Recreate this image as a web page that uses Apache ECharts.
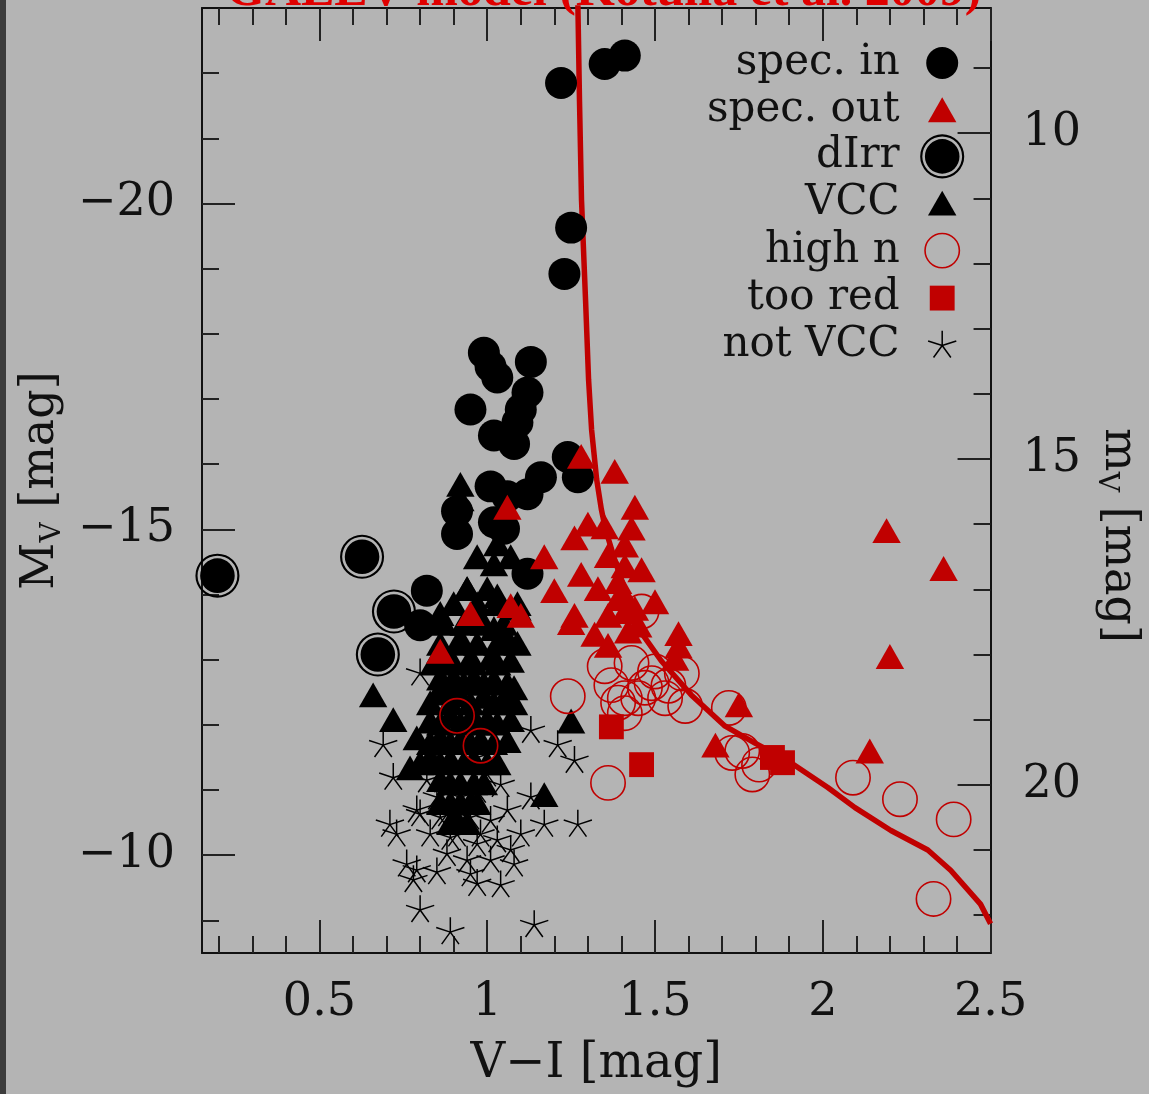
<!DOCTYPE html>
<html>
<head>
<meta charset="utf-8">
<script src="https://cdn.jsdelivr.net/npm/echarts@6/dist/echarts.min.js"></script>
<style>
html,body{margin:0;padding:0;background:#b4b4b4;width:1149px;height:1094px;overflow:hidden;}
#chart{width:1149px;height:1094px;overflow:hidden;}
</style>
</head>
<body>
<div id="chart"></div>
<script>
// ---------- data (V-I [mag], M_V [mag]) ----------
const galevModel = [[1.269,-23.41],[1.275,-21.57],[1.281,-20.05],[1.293,-18.52],[1.302,-17.30],[1.311,-16.53],[1.326,-15.77],[1.340,-15.31],[1.352,-15.01],[1.382,-14.50],[1.450,-13.48],[1.519,-12.98],[1.608,-12.46],[1.709,-11.98],[1.798,-11.72],[1.896,-11.45],[2.015,-11.04],[2.096,-10.73],[2.203,-10.38],[2.313,-10.08],[2.381,-9.77],[2.470,-9.25],[2.500,-8.95]];

const specIn = [[1.22,-21.85],[1.35,-22.14],[1.41,-22.27],[1.25,-19.63],[1.23,-18.92],[0.99,-17.71],[1.01,-17.50],[1.03,-17.33],[1.13,-17.57],[1.12,-17.10],[1.10,-16.84],[1.09,-16.64],[1.08,-16.31],[0.95,-16.84],[1.02,-16.44],[1.24,-16.11],[1.27,-15.80],[1.16,-15.80],[1.01,-15.66],[1.06,-15.51],[1.12,-15.54],[0.91,-15.28],[0.91,-14.93],[1.02,-15.11],[1.05,-15.01],[1.12,-14.32],[0.82,-14.06],[0.80,-13.53]];

const dIrr = [[0.196,-14.29],[0.627,-14.58],[0.722,-13.74],[0.674,-13.08]];

const vcc = [[0.92,-15.69],[0.92,-15.47],[1.03,-14.78],[0.97,-14.58],[1.07,-14.58],[1.02,-14.47],[0.94,-14.09],[0.86,-13.71],[1.03,-13.98],[0.97,-13.63],[1.02,-13.48],[1.06,-13.33],[0.92,-13.33],[0.97,-13.25],[0.88,-13.02],[0.95,-13.02],[1.01,-13.02],[1.07,-12.99],[0.90,-12.72],[0.96,-12.72],[1.02,-12.69],[0.86,-12.49],[0.92,-12.46],[0.99,-12.44],[1.05,-12.41],[0.66,-12.46],[0.72,-12.08],[0.83,-12.06],[0.89,-12.14],[0.95,-12.11],[1.00,-12.08],[1.07,-12.08],[0.79,-11.80],[0.86,-11.80],[0.92,-11.77],[0.98,-11.77],[1.06,-11.76],[0.77,-11.34],[0.83,-11.50],[0.89,-11.47],[0.96,-11.47],[1.03,-11.42],[0.86,-11.16],[0.92,-11.11],[0.99,-11.11],[0.89,-10.81],[0.95,-10.81],[0.91,-10.55],[1.25,-12.06],[1.17,-10.93],[0.86,-12.72],[1.09,-13.79],[1.08,-12.57],
  [0.94,-14.09],[1.00,-14.09],[0.90,-13.86],[0.97,-13.86],[1.03,-13.86],[1.09,-13.86],[0.87,-13.56],[0.93,-13.56],[0.99,-13.56],[1.05,-13.56],[0.86,-13.25],[0.92,-13.25],[1.03,-13.25],[1.09,-13.25],[0.84,-12.95],[0.90,-12.95],[0.96,-12.95],[1.03,-12.95],[0.87,-12.64],[0.93,-12.64],[0.99,-12.64],[1.06,-12.64],[0.83,-12.34],[0.89,-12.34],[0.95,-12.34],[1.02,-12.34],[1.08,-12.34],[0.86,-12.03],[0.92,-12.03],[0.97,-12.03],[1.03,-12.03],[0.83,-11.73],[0.89,-11.73],[0.95,-11.73],[1.02,-11.73],[0.80,-11.42],[0.86,-11.42],[0.93,-11.42],[1.00,-11.42],[0.89,-11.11],[0.96,-11.11],[0.86,-10.81],[0.92,-10.81],[0.97,-10.81],[0.89,-10.50],[0.94,-10.50]];

const notVCC = [[0.80,-12.79],[0.69,-11.69],[0.72,-11.19],[1.13,-11.91],[1.21,-11.69],[1.26,-11.45],[1.17,-10.47],[1.27,-10.47],[1.13,-10.89],[0.71,-10.47],[0.73,-10.32],[0.76,-9.86],[0.78,-9.62],[0.80,-9.16],[0.89,-8.82],[1.14,-8.93],[0.85,-9.74],[0.88,-10.02],[0.95,-9.71],[0.97,-9.56],[1.04,-9.54],[1.08,-9.86],[1.10,-10.32],[1.07,-10.08],[1.01,-9.92],[0.94,-9.92],[0.80,-10.63],[0.83,-10.32],[0.91,-10.32],[0.95,-10.58],[0.98,-10.32],[1.01,-10.53],[1.06,-10.69],[1.04,-11.08],[1.00,-11.24],[0.82,-11.15],[0.85,-10.89],[0.88,-10.63],[0.92,-10.89],[0.97,-10.99],[0.79,-10.69],[0.86,-10.58],[0.97,-10.17],[1.03,-10.23],[0.89,-10.27],[0.79,-9.77],[0.97,-11.50],[0.90,-11.34],[0.85,-11.42]];

const specOut = [[0.86,-13.13],[0.95,-13.71],[1.06,-15.34],[1.07,-13.83],[1.10,-13.68],[1.28,-16.12],[1.38,-15.89],[1.44,-15.34],[1.30,-15.08],[1.26,-14.87],[1.35,-15.04],[1.43,-15.02],[1.41,-14.76],[1.17,-14.58],[1.28,-14.31],[1.20,-14.06],[1.33,-14.09],[1.36,-14.60],[1.41,-14.44],[1.46,-14.38],[1.39,-14.20],[1.41,-13.98],[1.50,-13.89],[1.26,-13.68],[1.25,-13.57],[1.36,-13.68],[1.41,-13.74],[1.32,-13.39],[1.36,-13.22],[1.42,-13.44],[1.45,-13.53],[1.57,-13.40],[1.57,-13.21],[1.56,-13.02],[1.68,-11.69],[1.75,-12.31],[2.14,-11.60],[2.19,-14.98],[2.36,-14.40],[2.20,-13.05],[1.39,-13.94],[1.44,-13.79]];

const highN = [[0.91,-12.14],[0.98,-11.68],[1.24,-12.44],[1.36,-11.11],[1.35,-12.90],[1.43,-12.95],[1.37,-12.61],[1.41,-12.41],[1.41,-12.18],[1.39,-12.34],[1.45,-12.41],[1.47,-12.57],[1.50,-12.82],[1.49,-12.64],[1.53,-12.41],[1.54,-12.60],[1.58,-12.79],[1.59,-12.29],[1.46,-13.74],[1.72,-12.26],[1.73,-11.57],[1.76,-11.60],[1.79,-11.24],[1.81,-11.39],[2.09,-11.19],[2.23,-10.86],[2.39,-10.55],[2.33,-9.33]];

const tooRed = [[1.37,-11.97],[1.46,-11.39],[1.85,-11.50],[1.88,-11.42]];

// ---------- tick values ----------
const xMajorTicks = [0.5, 1, 1.5, 2, 2.5];
const xMinorTicks = [0.2,0.3,0.4,0.6,0.7,0.8,0.9,1.1,1.2,1.3,1.4,1.6,1.7,1.8,1.9,2.1,2.2,2.3,2.4];
const absMajorTicks = [-20, -15, -10];
const absMinorTicks = [-22,-21,-19,-18,-17,-16,-14,-13,-12,-11,-9];
const appMajorTicks = [10, 15, 20];
const appMinorTicks = [9,11,12,13,14,16,17,18,19,21,22];

// ---------- config ----------
const DIST_MOD = 31.08;
const X_MIN = 0.15, X_MAX = 2.5, Y_MIN = -23, Y_MAX = -8.5;
const FONT = 'DejaVu Serif';
const INK = '#111111';
const RED = '#c00000';
const SYM_SIZE = 45;

const P_BOX = 'M-19 -19M19 19';
function circ(r, cw) {
  const s = cw ? 1 : 0;
  return 'M' + (-r) + ' 0A' + r + ' ' + r + ' 0 1 ' + s + ' ' + r + ' 0A' + r + ' ' + r + ' 0 1 ' + s + ' ' + (-r) + ' 0Z';
}
const SYM_DOT = 'path://' + P_BOX + circ(13.5, true);
const SYM_TRI = 'path://' + P_BOX + 'M0 -10.5L12 10.5L-12 10.5Z';
const SYM_DIRR = 'path://' + P_BOX + circ(18.6, true) + circ(16.8, false) + circ(14.6, true);
const SYM_OPEN = 'path://' + P_BOX + circ(14.5, true);
const SYM_SQ = 'path://' + P_BOX + 'M-10.5 -10.5L10.5 -10.5L10.5 10.5L-10.5 10.5Z';
const SYM_STAR = 'path://' + P_BOX + 'M0 0L0 -12.5M0 0L11.9 -3.9M0 0L7.3 10.1M0 0L-7.3 10.1M0 0L-11.9 -3.9';

function minusFmt(v) { return v < 0 ? '\u2212' + Math.abs(v) : String(v); }

function xAxisDef(position, ticks, len, withLabels, withLine, extra) {
  return Object.assign({
    type: 'value', gridIndex: 0, position: position, min: X_MIN, max: X_MAX,
    axisLine: { show: withLine, onZero: false, lineStyle: { color: INK, width: 2 } },
    axisTick: { show: true, inside: true, length: len, customValues: ticks, lineStyle: { color: '#222', width: 2 } },
    axisLabel: withLabels ? { show: true, customValues: ticks, margin: 27, fontFamily: FONT, fontSize: 46, color: INK } : { show: false },
    splitLine: { show: false }
  }, extra || {});
}
function yAxisDef(position, min, max, ticks, len, withLabels, withLine, extra) {
  return Object.assign({
    type: 'value', gridIndex: 0, position: position, min: min, max: max, inverse: true,
    axisLine: { show: withLine, onZero: false, lineStyle: { color: INK, width: 2 } },
    axisTick: { show: true, inside: true, length: len, customValues: ticks, lineStyle: { color: '#222', width: 2 } },
    axisLabel: withLabels ? { show: true, customValues: ticks, margin: position === 'left' ? 27 : 32, fontFamily: FONT, fontSize: 46, color: INK, formatter: minusFmt } : { show: false },
    splitLine: { show: false }
  }, extra || {});
}

const nameRich = {
  a: { fontFamily: FONT, fontSize: 46, color: INK, lineHeight: 52, verticalAlign: 'middle' },
  b: { fontFamily: FONT, fontSize: 28, color: INK, lineHeight: 32, verticalAlign: 'bottom' }
};

const chart = echarts.init(document.getElementById('chart'), null, { renderer: 'canvas', width: 1149, height: 1094 });

const option = {
  animation: false,
  backgroundColor: '#b4b4b4',
  title: {
    text: 'GALEV model (Kotulla et al. 2009)',
    left: 226, top: -33, padding: 0,
    textStyle: { fontFamily: 'Liberation Serif', fontWeight: 'bold', fontSize: 50, color: '#e00000' }
  },
  graphic: [{ type: 'rect', left: 0, top: 0, shape: { width: 6, height: 1094 }, style: { fill: '#3c3c3c' }, silent: true }],
  grid: { left: 202, top: 8, width: 791, height: 948, containLabel: false },
  legend: {
    orient: 'vertical', align: 'right', right: 183.5, top: 40.5, padding: 0,
    itemWidth: SYM_SIZE, itemHeight: SYM_SIZE, itemGap: 1.7, selectedMode: false,
    textStyle: { fontFamily: FONT, fontSize: 42, lineHeight: 40, color: INK, padding: [0, 15, 0, 0] },
    data: [
      { name: 'spec. in', icon: SYM_DOT, itemStyle: { color: '#000', borderWidth: 0 } },
      { name: 'spec. out', icon: SYM_TRI, itemStyle: { color: RED, borderWidth: 0 } },
      { name: 'dIrr', icon: SYM_DIRR, itemStyle: { color: '#000', borderWidth: 0 } },
      { name: 'VCC', icon: SYM_TRI, itemStyle: { color: '#000', borderWidth: 0 } },
      { name: 'high n', icon: SYM_OPEN, itemStyle: { color: 'transparent', borderColor: RED, borderWidth: 1.6 } },
      { name: 'too red', icon: SYM_SQ, itemStyle: { color: RED, borderWidth: 0 } },
      { name: 'not VCC', icon: SYM_STAR, itemStyle: { color: 'transparent', borderColor: '#000', borderWidth: 1.5 } }
    ]
  },
  xAxis: [
    xAxisDef('bottom', xMajorTicks, 33, true, true, {
      name: 'V\u2212I [mag]', nameLocation: 'middle', nameGap: 88,
      nameTextStyle: { fontFamily: FONT, fontSize: 48, color: INK }
    }),
    xAxisDef('bottom', xMinorTicks, 17, false, false),
    xAxisDef('top', xMajorTicks, 33, false, true),
    xAxisDef('top', xMinorTicks, 17, false, false)
  ],
  yAxis: [
    yAxisDef('left', Y_MIN, Y_MAX, absMajorTicks, 33, true, true, {
      name: '{a|M}{b|V}{a| [mag]}', nameLocation: 'middle', nameGap: 132, nameRotate: 90,
      nameTextStyle: { color: INK, rich: nameRich }
    }),
    yAxisDef('left', Y_MIN, Y_MAX, absMinorTicks, 17, false, false),
    yAxisDef('right', Y_MIN + DIST_MOD, Y_MAX + DIST_MOD, appMajorTicks, 33, true, true, {
      name: '{a|m}{b|V}{a| [mag]}', nameLocation: 'middle', nameGap: 100, nameRotate: -90,
      nameTextStyle: { color: INK, padding: [0, 0, 0, 110], rich: nameRich }
    }),
    yAxisDef('right', Y_MIN + DIST_MOD, Y_MAX + DIST_MOD, appMinorTicks, 17, false, false)
  ],
  series: [
    { name: 'GALEV', type: 'line', data: galevModel, xAxisIndex: 0, yAxisIndex: 0, showSymbol: false, symbol: 'none',
      lineStyle: { color: RED, width: 5.5 }, z: 1, clip: true, silent: true },
    { name: 'spec. in', type: 'scatter', data: specIn, symbol: SYM_DOT, symbolSize: SYM_SIZE, itemStyle: { color: '#000', opacity: 1 }, z: 2 },
    { name: 'dIrr', type: 'scatter', data: dIrr, symbol: SYM_DIRR, symbolSize: SYM_SIZE, itemStyle: { color: '#000', opacity: 1 }, z: 2 },
    { name: 'VCC', type: 'scatter', data: vcc, symbol: SYM_TRI, symbolSize: SYM_SIZE, itemStyle: { color: '#000', opacity: 1 }, z: 3 },
    { name: 'not VCC', type: 'scatter', data: notVCC, symbol: SYM_STAR, symbolSize: SYM_SIZE,
      itemStyle: { color: 'transparent', borderColor: '#000', borderWidth: 1.5, opacity: 1 }, z: 3 },
    { name: 'spec. out', type: 'scatter', data: specOut, symbol: SYM_TRI, symbolSize: SYM_SIZE, itemStyle: { color: RED, opacity: 1 }, z: 4 },
    { name: 'high n', type: 'scatter', data: highN, symbol: SYM_OPEN, symbolSize: SYM_SIZE,
      itemStyle: { color: 'transparent', borderColor: RED, borderWidth: 1.6, opacity: 1 }, z: 5 },
    { name: 'too red', type: 'scatter', data: tooRed, symbol: SYM_SQ, symbolSize: SYM_SIZE, itemStyle: { color: RED, opacity: 1 }, z: 5 }
  ]
};
chart.setOption(option);
</script>
</body>
</html>
